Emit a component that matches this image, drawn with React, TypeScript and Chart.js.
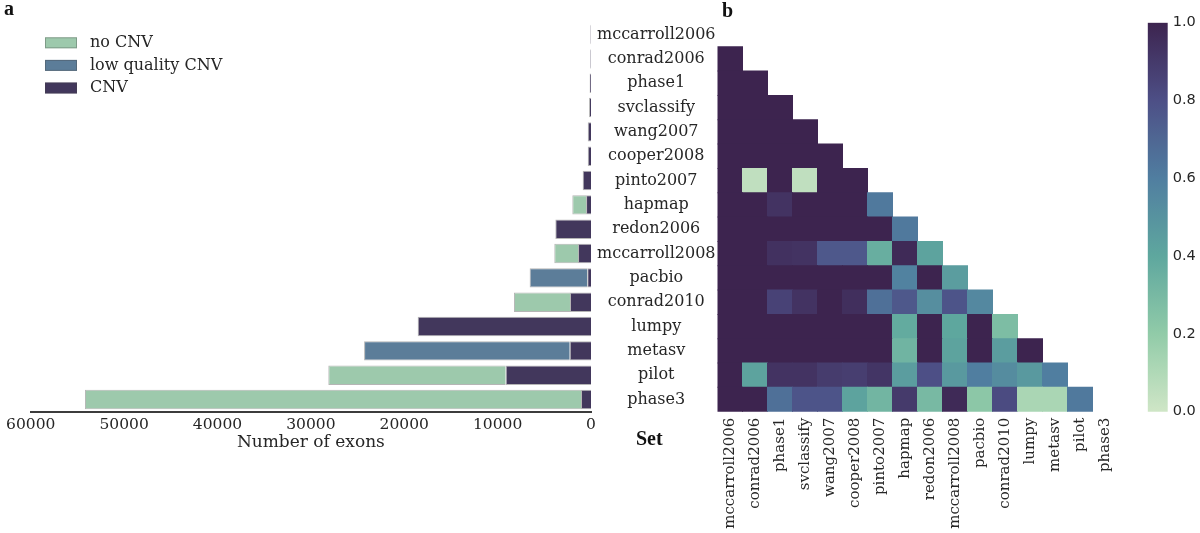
import React, { useEffect, useRef } from "react";
import { Chart, registerables } from "chart.js";

Chart.register(...registerables);

// ---------------- data ----------------
const setNames = [
  "mccarroll2006", "conrad2006", "phase1", "svclassify", "wang2007", "cooper2008",
  "pinto2007", "hapmap", "redon2006", "mccarroll2008", "pacbio", "conrad2010",
  "lumpy", "metasv", "pilot", "phase3",
];

// panel a: number of exons per set (stacked from 0)
const cnvExons = [60, 70, 150, 210, 350, 350, 890, 530, 3820, 1390, 400, 2250, 18560, 2280, 9140, 1070];
const lowQualityExons = [0, 0, 0, 0, 0, 0, 0, 0, 0, 0, 6170, 0, 0, 22020, 0, 0];
const noCnvExons = [0, 0, 0, 0, 0, 0, 0, 1470, 0, 2540, 0, 6000, 0, 0, 18990, 53120];
const exonTicks = [0, 10000, 20000, 30000, 40000, 50000, 60000];

// panel b: pairwise overlap (row set vs. earlier column sets)
const rowMccarroll2006: number[] = [];
const rowConrad2006 = [1.0];
const rowPhase1 = [1.0, 1.0];
const rowSvclassify = [1.0, 1.0, 1.0];
const rowWang2007 = [1.0, 1.0, 1.0, 1.0];
const rowCooper2008 = [1.0, 1.0, 1.0, 1.0, 1.0];
const rowPinto2007 = [1.0, 0.05, 1.0, 0.05, 1.0, 1.0];
const rowHapmap = [1.0, 1.0, 0.93, 1.0, 1.0, 1.0, 0.62];
const rowRedon2006 = [1.0, 1.0, 1.0, 1.0, 1.0, 1.0, 1.0, 0.62];
const rowMccarroll2008 = [1.0, 1.0, 0.94, 0.93, 0.76, 0.76, 0.36, 0.97, 0.42];
const rowPacbio = [1.0, 1.0, 1.0, 1.0, 1.0, 1.0, 1.0, 0.58, 1.0, 0.45];
const rowConrad2010 = [1.0, 1.0, 0.86, 0.93, 1.0, 0.95, 0.66, 0.76, 0.52, 0.78, 0.55];
const rowLumpy = [1.0, 1.0, 1.0, 1.0, 1.0, 1.0, 1.0, 0.38, 1.0, 0.4, 1.0, 0.28];
const rowMetasv = [1.0, 1.0, 1.0, 1.0, 1.0, 1.0, 1.0, 0.33, 1.0, 0.42, 1.0, 0.45, 1.0];
const rowPilot = [1.0, 0.42, 0.93, 0.93, 0.89, 0.88, 0.92, 0.45, 0.8, 0.47, 0.6, 0.53, 0.47, 0.6];
const rowPhase3 = [1.0, 1.0, 0.66, 0.78, 0.78, 0.42, 0.32, 0.9, 0.3, 0.97, 0.22, 0.82, 0.12, 0.12, 0.62];

const overlapRows = [
  rowMccarroll2006, rowConrad2006, rowPhase1, rowSvclassify, rowWang2007, rowCooper2008,
  rowPinto2007, rowHapmap, rowRedon2006, rowMccarroll2008, rowPacbio, rowConrad2010,
  rowLumpy, rowMetasv, rowPilot, rowPhase3,
];

const colorbarRange = [0, 1];
const colorbarTicks = [0, 0.2, 0.4, 0.6, 0.8, 1.0];

// ---------------- style ----------------
const SERIF = "'DejaVu Serif', serif";
const TIMES = "'Liberation Serif', 'Times New Roman', serif";
const SANS = "'DejaVu Sans', sans-serif";
const TEXT = "#262626";
const COLOR_NO_CNV = "#9dc9ac";
const COLOR_LOW_Q = "#5c7d99";
const COLOR_CNV = "#42375c";

const cmapStops: [number, number, number][] = [
  [207, 230, 198],
  [145, 203, 168],
  [94, 167, 158],
  [80, 126, 160],
  [77, 79, 134],
  [61, 36, 79],
];

function cmap(v: number): string {
  const t = Math.max(0, Math.min(1, v)) * (cmapStops.length - 1);
  const i = Math.min(cmapStops.length - 2, Math.floor(t));
  const f = t - i;
  const a = cmapStops[i];
  const b = cmapStops[i + 1];
  const c = a.map((x, k) => Math.round(x + (b[k] - x) * f));
  return `rgb(${c[0]},${c[1]},${c[2]})`;
}

const legendPlugin = {
  id: "stackLegend",
  afterDraw(chart: any) {
    const { ctx, chartArea } = chart;
    const items = chart.data.datasets.slice().reverse();
    ctx.save();
    items.forEach((ds: any, k: number) => {
      const cy = chartArea.top + 20.4 + k * 22.6;
      const x0 = chartArea.left + 14.3;
      ctx.fillStyle = ds.backgroundColor;
      ctx.fillRect(x0, cy - 5.5, 32, 11);
      ctx.strokeStyle = "rgba(70,70,70,0.35)";
      ctx.lineWidth = 1;
      ctx.strokeRect(x0 + 0.5, cy - 5, 31, 10);
      ctx.fillStyle = TEXT;
      ctx.font = `16px ${SERIF}`;
      ctx.textBaseline = "middle";
      ctx.textAlign = "left";
      ctx.fillText(ds.label, x0 + 45, cy);
    });
    ctx.restore();
  },
};

export default function App() {
  const barRef = useRef<HTMLCanvasElement>(null);
  const heatRef = useRef<HTMLCanvasElement>(null);
  const cbRef = useRef<HTMLCanvasElement>(null);

  useEffect(() => {
    const charts: Chart[] = [];

    // ---- panel a: stacked horizontal bars ----
    charts.push(
      new Chart(barRef.current!, {
        type: "bar",
        data: {
          labels: setNames,
          datasets: [
            { label: "CNV", data: cnvExons, backgroundColor: COLOR_CNV },
            { label: "low quality CNV", data: lowQualityExons, backgroundColor: COLOR_LOW_Q },
            { label: "no CNV", data: noCnvExons, backgroundColor: COLOR_NO_CNV },
          ],
        },
        options: {
          indexAxis: "y",
          animation: false,
          responsive: false,
          maintainAspectRatio: false,
          layout: { padding: { left: 30.7, top: 22.4, right: 0, bottom: 533 - 411.7 - 40.9 } },
          datasets: {
            bar: {
              barPercentage: 0.8,
              categoryPercentage: 1,
              borderWidth: 1,
              borderColor: "rgba(70,70,70,0.4)",
            },
          },
          scales: {
            x: {
              type: "linear",
              reverse: true,
              min: 0,
              max: 60000,
              stacked: true,
              position: "bottom",
              afterBuildTicks: (s: any) => {
                s.ticks = exonTicks.map((v) => ({ value: v }));
              },
              afterFit: (s: any) => {
                s.height = 40.9;
              },
              grid: { display: false, drawTicks: false },
              border: { display: true, color: "#3c3c3c", width: 2 },
              ticks: {
                font: { family: SERIF, size: 15.5 },
                color: TEXT,
                padding: 4,
                maxRotation: 0,
                callback: (v: any) => String(v),
              },
              title: {
                display: true,
                text: "Number of exons",
                font: { family: SERIF, size: 17 },
                color: TEXT,
                padding: 0,
              },
            },
            y: {
              type: "category",
              position: "right",
              stacked: true,
              afterFit: (s: any) => {
                s.width = 129;
              },
              grid: { display: false, drawTicks: false },
              border: { display: false },
              ticks: {
                font: { family: SERIF, size: 16 },
                color: TEXT,
                padding: 6,
                crossAlign: "center",
                autoSkip: false,
              },
            },
          },
          plugins: { legend: { display: false }, tooltip: { enabled: false } },
        } as any,
        plugins: [legendPlugin],
      })
    );

    // ---- panel b: triangular heatmap from floating bars ----
    const cells: any[] = [];
    overlapRows.forEach((row, i) =>
      row.forEach((v, j) => cells.push({ x: [j - 0.5, j + 0.5], y: setNames[i], v }))
    );
    charts.push(
      new Chart(heatRef.current!, {
        type: "bar",
        data: {
          labels: setNames,
          datasets: [
            {
              label: "overlap",
              data: cells,
              backgroundColor: (c: any) => (c.raw ? cmap(c.raw.v) : "transparent"),
              borderWidth: 0,
              inflateAmount: 0.5,
              barPercentage: 1,
              categoryPercentage: 1,
            } as any,
          ],
        },
        options: {
          indexAxis: "y",
          animation: false,
          responsive: false,
          maintainAspectRatio: false,
          layout: { padding: { left: 17.5, right: 82.5, top: 22.4, bottom: 0 } },
          scales: {
            y: { type: "category", display: false, offset: true },
            x: {
              type: "linear",
              min: -0.5,
              max: setNames.length - 0.5,
              position: "bottom",
              afterBuildTicks: (s: any) => {
                s.ticks = setNames.map((_, k) => ({ value: k }));
              },
              afterFit: (s: any) => {
                s.height = 533 - 411.7;
              },
              grid: { display: false, drawTicks: false },
              border: { display: false },
              ticks: {
                font: { family: SERIF, size: 15 },
                color: TEXT,
                padding: 6,
                minRotation: 90,
                maxRotation: 90,
                autoSkip: false,
                callback: (v: any) => setNames[Math.round(v)] ?? "",
              },
            },
          },
          plugins: { legend: { display: false }, tooltip: { enabled: false } },
        } as any,
      })
    );

    // ---- colorbar ----
    charts.push(
      new Chart(cbRef.current!, {
        type: "bar",
        data: {
          labels: [""],
          datasets: [
            {
              label: "scale",
              data: [colorbarRange],
              backgroundColor: (c: any) => {
                const area = c.chart.chartArea;
                if (!area) return cmap(0.5);
                const g = c.chart.ctx.createLinearGradient(0, area.bottom, 0, area.top);
                for (let k = 0; k <= 20; k++) g.addColorStop(k / 20, cmap(k / 20));
                return g;
              },
              borderWidth: 0,
              barPercentage: 1,
              categoryPercentage: 1,
            } as any,
          ],
        },
        options: {
          animation: false,
          responsive: false,
          maintainAspectRatio: false,
          layout: { padding: { left: 7.7, top: 22.7, bottom: 533 - 411.7, right: 0 } },
          scales: {
            x: { type: "category", display: false },
            y: {
              type: "linear",
              position: "right",
              min: 0,
              max: 1,
              afterBuildTicks: (s: any) => {
                s.ticks = colorbarTicks.map((v) => ({ value: v }));
              },
              afterFit: (s: any) => {
                s.width = 32.3;
              },
              grid: { display: false, drawTicks: false },
              border: { display: false },
              ticks: {
                font: { family: SANS, size: 14.5 },
                color: TEXT,
                padding: 5,
                callback: (v: any) => Number(v).toFixed(1),
              },
            },
          },
          plugins: { legend: { display: false }, tooltip: { enabled: false } },
        } as any,
      })
    );

    return () => charts.forEach((c) => c.destroy());
  }, []);

  const label: React.CSSProperties = {
    position: "absolute",
    fontFamily: TIMES,
    fontWeight: "bold",
    fontSize: 20,
    lineHeight: "20px",
    color: "#111",
    margin: 0,
    whiteSpace: "nowrap",
  };

  return (
    <div style={{ position: "absolute", left: 0, top: 0, width: 1200, height: 533, background: "#fff" }}>
      <canvas ref={barRef} width={720} height={533} style={{ position: "absolute", left: 0, top: 0 }} />
      <canvas ref={heatRef} width={500} height={533} style={{ position: "absolute", left: 700, top: 0 }} />
      <canvas ref={cbRef} width={60} height={533} style={{ position: "absolute", left: 1140, top: 0 }} />
      <div style={{ ...label, left: 4, top: -2.5 }}>a</div>
      <div style={{ ...label, left: 722, top: 0 }}>b</div>
      <div style={{ ...label, left: 636, top: 427.5 }}>Set</div>
    </div>
  );
}
